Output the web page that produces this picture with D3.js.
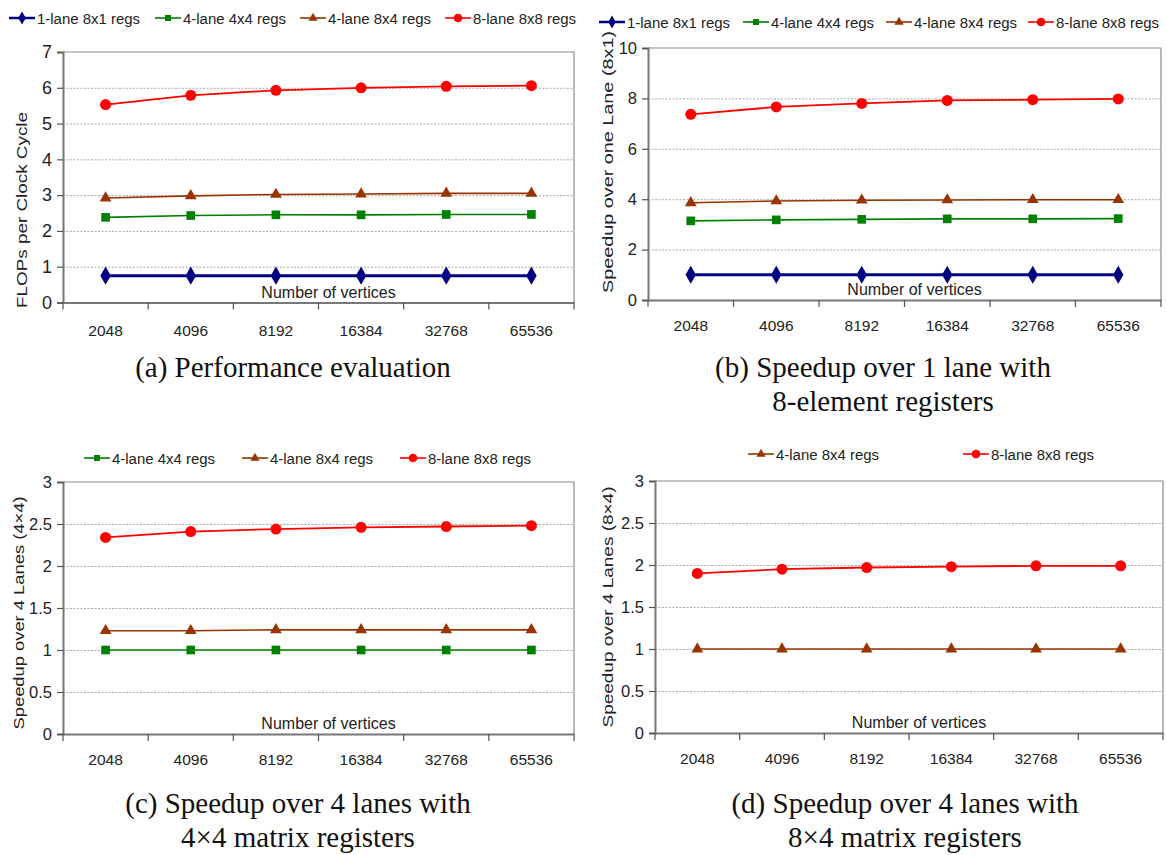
<!DOCTYPE html>
<html>
<head>
<meta charset="utf-8">
<script src="https://cdn.jsdelivr.net/npm/d3@7"></script>
<style>
  html, body { margin: 0; padding: 0; background: #fff; }
  svg { display: block; }
  text { font-family: "Liberation Sans", Arial, sans-serif; fill: #222; }
  .cap { font-family: "Liberation Serif", "Times New Roman", serif; fill: #111; }
</style>
</head>
<body>
<svg id="chart" width="1167" height="855"></svg>
<script>
// ---------------- data ----------------
const vertices = ["2048", "4096", "8192", "16384", "32768", "65536"];

// (a) FLOPs per clock cycle
const perf1lane8x1 = [0.75, 0.75, 0.75, 0.75, 0.75, 0.75];
const perf4lane4x4 = [2.38, 2.43, 2.45, 2.45, 2.46, 2.46];
const perf4lane8x4 = [2.92, 2.98, 3.02, 3.03, 3.05, 3.05];
const perf8lane8x8 = [5.53, 5.79, 5.93, 6.0, 6.04, 6.06];

// (b) speedup over one lane (8x1)
const sp1lane8x1 = [1, 1, 1, 1, 1, 1];
const sp4lane4x4 = [3.14, 3.18, 3.2, 3.22, 3.22, 3.23];
const sp4lane8x4 = [3.86, 3.93, 3.96, 3.97, 3.98, 3.98];
const sp8lane8x8 = [7.37, 7.66, 7.8, 7.92, 7.95, 7.98];

// (c) speedup over 4 lanes (4x4)
const c4lane4x4 = [1, 1, 1, 1, 1, 1];
const c4lane8x4 = [1.23, 1.23, 1.24, 1.24, 1.24, 1.24];
const c8lane8x8 = [2.34, 2.41, 2.44, 2.46, 2.47, 2.48];

// (d) speedup over 4 lanes (8x4)
const d4lane8x4 = [1, 1, 1, 1, 1, 1];
const d8lane8x8 = [1.9, 1.95, 1.97, 1.98, 1.99, 1.99];

const ticksA = [0, 1, 2, 3, 4, 5, 6, 7];
const ticksB = [0, 2, 4, 6, 8, 10];
const ticksCD = [0, 0.5, 1, 1.5, 2, 2.5, 3];

const seriesNames = ["1-lane 8x1 regs", "4-lane 4x4 regs", "4-lane 8x4 regs", "8-lane 8x8 regs"];

// ---------------- styles ----------------
const styles = {
  "1-lane 8x1 regs": { color: "#000080", width: 3, marker: "diamond", size: 95, lsize: 50 },
  "4-lane 4x4 regs": { color: "#008000", width: 1.6, marker: "square", size: 75, lsize: 36 },
  "4-lane 8x4 regs": { color: "#993300", width: 1.6, marker: "triangle", size: 60, lsize: 36 },
  "8-lane 8x8 regs": { color: "#FF0000", width: 1.8, marker: "circle", size: 95, lsize: 60 }
};
const symTypes = { diamond: d3.symbolDiamond, square: d3.symbolSquare, triangle: d3.symbolTriangle, circle: d3.symbolCircle };

const svg = d3.select("#chart");

function drawPanel(cfg) {
  const g = svg.append("g");
  const x = d3.scaleBand().domain(vertices).range([cfg.x0, cfg.x1]).padding(0);
  const y = d3.scaleLinear().domain([0, cfg.ymax]).range([cfg.y1, cfg.y0]);
  const cx = d => x(d) + x.bandwidth() / 2;

  // grid lines
  g.append("g")
    .attr("transform", `translate(${cfg.x0},0)`)
    .call(d3.axisLeft(y).tickValues(cfg.ticks.filter(t => t > 0 && t < cfg.ymax)).tickSize(-(cfg.x1 - cfg.x0)).tickFormat(""))
    .call(s => s.select(".domain").remove())
    .call(s => s.selectAll("line").attr("stroke", "#aaa").attr("stroke-dasharray", "2,1.5").attr("stroke-width", 1));

  // plot border (top/right)
  g.append("path")
    .attr("d", `M${cfg.x0},${cfg.y0}H${cfg.x1}V${cfg.y1}`)
    .attr("fill", "none").attr("stroke", "#8c8c8c").attr("stroke-width", 1.2);

  // y axis
  g.append("g")
    .attr("transform", `translate(${cfg.x0},0)`)
    .call(d3.axisLeft(y).tickValues(cfg.ticks).tickSize(6).tickPadding(5).tickFormat(d3.format("")))
    .call(s => s.select(".domain").attr("stroke", "#777").attr("stroke-width", 2))
    .call(s => s.selectAll("line").attr("stroke", "#555").attr("stroke-width", 1.2))
    .call(s => s.selectAll("text").attr("font-size", cfg.yfs).attr("fill", "#222")
      .attr("font-family", "Liberation Sans, Arial, sans-serif"));

  // x axis: tick labels
  g.append("g")
    .attr("transform", `translate(0,${cfg.y1})`)
    .call(d3.axisBottom(x).tickSize(0).tickPadding(cfg.xpad))
    .call(s => s.select(".domain").attr("stroke", "#777").attr("stroke-width", 2))
    .call(s => s.selectAll("text").attr("font-size", 15.5).attr("fill", "#222")
      .attr("font-family", "Liberation Sans, Arial, sans-serif"));
  // x axis: boundary ticks
  const edges = vertices.map(v => x(v)).concat([cfg.x1]);
  g.append("g").selectAll("line").data(edges).join("line")
    .attr("x1", d => d).attr("x2", d => d)
    .attr("y1", cfg.y1).attr("y2", cfg.y1 + 7)
    .attr("stroke", "#555").attr("stroke-width", 1.2);

  // "Number of vertices"
  g.append("text")
    .attr("x", (cfg.x0 + cfg.x1) / 2 + 10).attr("y", cfg.y1 - 5)
    .attr("text-anchor", "middle").attr("font-size", 16)
    .text("Number of vertices");

  // y title
  g.append("text")
    .attr("transform", `translate(${cfg.ytx},${cfg.yty}) rotate(-90)`)
    .attr("text-anchor", "middle").attr("dominant-baseline", "central")
    .attr("font-size", 15).attr("textLength", cfg.ytl).attr("lengthAdjust", "spacingAndGlyphs")
    .text(cfg.ytitle);

  // series
  cfg.series.forEach(s => {
    const st = styles[s.name];
    const line = d3.line().x((d, i) => cx(vertices[i])).y(d => y(d));
    g.append("path").datum(s.values)
      .attr("d", line).attr("fill", "none")
      .attr("stroke", st.color).attr("stroke-width", st.width);
    g.append("g").selectAll("path").data(s.values).join("path")
      .attr("transform", (d, i) => `translate(${cx(vertices[i])},${y(d)})`)
      .attr("d", d3.symbol().type(symTypes[st.marker]).size(st.size))
      .attr("fill", st.color);
  });

  // legend
  cfg.legend.forEach(item => {
    const st = styles[item.name];
    const lg = g.append("g").attr("transform", `translate(${item.x},${cfg.ly})`);
    lg.append("line").attr("x1", 0).attr("x2", 26).attr("y1", 0).attr("y2", 0)
      .attr("stroke", st.color).attr("stroke-width", st.width === 3 ? 2.5 : 1.6);
    lg.append("path").attr("transform", "translate(13,0)")
      .attr("d", d3.symbol().type(symTypes[st.marker]).size(st.lsize))
      .attr("fill", st.color);
    lg.append("text").attr("x", 28).attr("y", 0).attr("dominant-baseline", "central")
      .attr("font-size", 15.5).attr("textLength", 103).attr("lengthAdjust", "spacingAndGlyphs")
      .text(item.name);
  });

  // caption
  cfg.caption.forEach((c, i) => {
    g.append("text").attr("class", "cap")
      .attr("x", cfg.capx).attr("y", cfg.capy + i * 34)
      .attr("text-anchor", "middle").attr("font-size", 29)
      .text(c);
  });
}

drawPanel({
  x0: 63, x1: 574, y0: 52, y1: 302.5, ymax: 7, ticks: ticksA, yfs: 18, xpad: 22,
  ytitle: "FLOPs per Clock Cycle", ytx: 21, yty: 210, ytl: 196,
  series: [
    { name: seriesNames[0], values: perf1lane8x1 },
    { name: seriesNames[1], values: perf4lane4x4 },
    { name: seriesNames[2], values: perf4lane8x4 },
    { name: seriesNames[3], values: perf8lane8x8 }
  ],
  ly: 18,
  legend: [
    { name: seriesNames[0], x: 9 },
    { name: seriesNames[1], x: 155 },
    { name: seriesNames[2], x: 300 },
    { name: seriesNames[3], x: 445 }
  ],
  caption: ["(a) Performance evaluation"], capx: 293, capy: 377
});

drawPanel({
  x0: 648, x1: 1161, y0: 48, y1: 300, ymax: 10, ticks: ticksB, yfs: 16.5, xpad: 20,
  ytitle: "Speedup over one Lane (8x1)", ytx: 607, yty: 162, ytl: 262,
  series: [
    { name: seriesNames[0], values: sp1lane8x1 },
    { name: seriesNames[1], values: sp4lane4x4 },
    { name: seriesNames[2], values: sp4lane8x4 },
    { name: seriesNames[3], values: sp8lane8x8 }
  ],
  ly: 22,
  legend: [
    { name: seriesNames[0], x: 599 },
    { name: seriesNames[1], x: 743 },
    { name: seriesNames[2], x: 886 },
    { name: seriesNames[3], x: 1028 }
  ],
  caption: ["(b) Speedup over 1 lane with", "8-element registers"], capx: 883, capy: 377
});

drawPanel({
  x0: 63, x1: 574, y0: 482, y1: 734, ymax: 3, ticks: ticksCD, yfs: 16.5, xpad: 20,
  ytitle: "Speedup over 4 Lanes (4\u00d74)", ytx: 18, yty: 613, ytl: 233,
  series: [
    { name: seriesNames[1], values: c4lane4x4 },
    { name: seriesNames[2], values: c4lane8x4 },
    { name: seriesNames[3], values: c8lane8x8 }
  ],
  ly: 458,
  legend: [
    { name: seriesNames[1], x: 84 },
    { name: seriesNames[2], x: 242 },
    { name: seriesNames[3], x: 400 }
  ],
  caption: ["(c) Speedup over 4 lanes with", "4\u00d74 matrix registers"], capx: 298, capy: 813
});

drawPanel({
  x0: 655, x1: 1163, y0: 481, y1: 733, ymax: 3, ticks: ticksCD, yfs: 16.5, xpad: 20,
  ytitle: "Speedup over 4 Lanes  (8\u00d74)", ytx: 607, yty: 607, ytl: 241,
  series: [
    { name: seriesNames[2], values: d4lane8x4 },
    { name: seriesNames[3], values: d8lane8x8 }
  ],
  ly: 454,
  legend: [
    { name: seriesNames[2], x: 748 },
    { name: seriesNames[3], x: 963 }
  ],
  caption: ["(d) Speedup over 4 lanes with", "8\u00d74 matrix registers"], capx: 905, capy: 813
});
</script>
</body>
</html>
